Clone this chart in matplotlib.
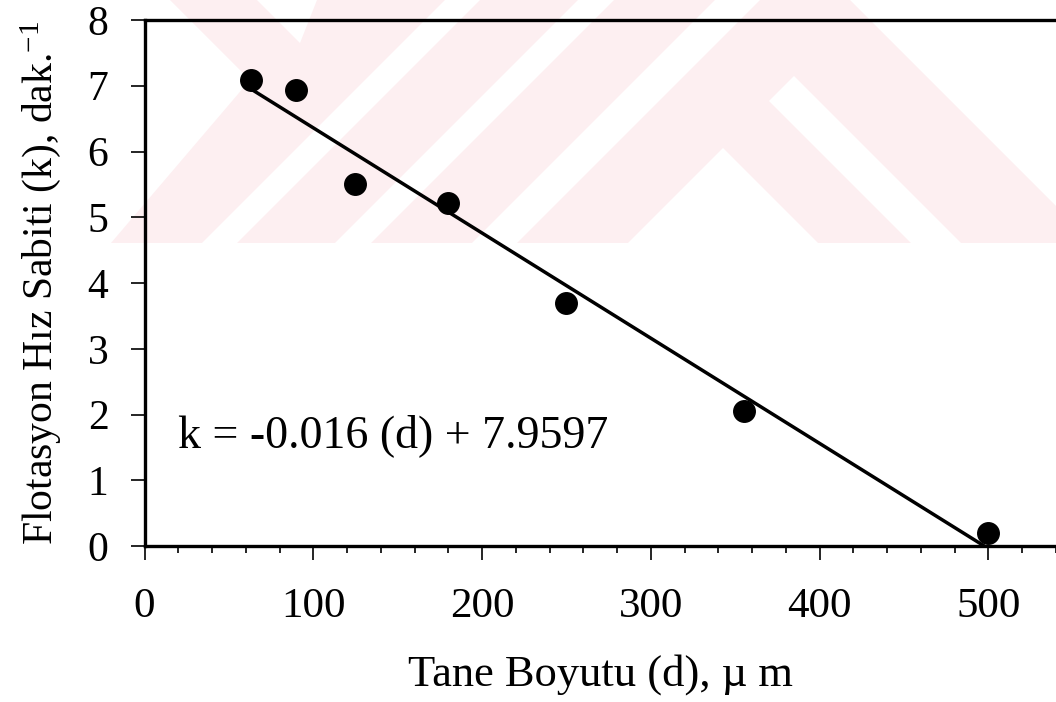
import matplotlib
matplotlib.use('Agg')
import matplotlib.pyplot as plt
from matplotlib.patches import Polygon
from matplotlib.ticker import MultipleLocator
import numpy as np

# particle size (um) vs flotation rate constant (1/min)
size_um = [63, 90, 125, 180, 250, 355, 500]
rate_k = [7.09, 6.94, 5.51, 5.22, 3.69, 2.05, 0.2]

# fitted line given on the chart
fit_slope = -0.016
fit_intercept = 7.9597
fit_label = 'k = -0.016 (d) + 7.9597'

x_ticks = [0, 100, 200, 300, 400, 500]
y_ticks = [0, 1, 2, 3, 4, 5, 6, 7, 8]

plt.rcParams['font.family'] = ['Liberation Serif', 'DejaVu Serif']
plt.rcParams['mathtext.default'] = 'regular'

W, H = 1056, 702
fig = plt.figure(figsize=(W / 100, H / 100), dpi=100, facecolor='white')

# faint thesis watermark in the upper part of the page (pixel coords)
bg = fig.add_axes([0, 0, 1, 1], zorder=0)
bg.set_xlim(0, W)
bg.set_ylim(H, 0)
bg.axis('off')
pink = '#fdeff1'
bg.add_patch(Polygon([(170, 0), (250, 80), (111, 243), (1056, 243),
                      (1056, 206), (850, 0)], closed=True, fc=pink, ec='none'))
white_parts = [
    [(257, 0), (317, 0), (300, 43)],
    [(445, 0), (480, 0), (237, 243), (202, 243)],
    [(578, 0), (614, 0), (371, 243), (335, 243)],
    [(715, 0), (760, 0), (517, 243), (472, 243)],
    [(628, 243), (723, 148), (818, 243)],
    [(769, 101), (794, 76), (961, 243), (911, 243)],
]
for pts in white_parts:
    bg.add_patch(Polygon(pts, closed=True, fc='white', ec='none'))

ax = fig.add_axes([144.5 / W, 1 - 546 / H, 1 - 144.5 / W, 526 / H], zorder=1)
ax.set_facecolor('none')

# trend line from first point down to k = 0
line_x = np.array([size_um[0], -fit_intercept / fit_slope])
ax.plot(line_x, fit_slope * line_x + fit_intercept, color='black', lw=2.5,
        solid_capstyle='butt', zorder=2)
ax.plot(size_um, rate_k, 'o', color='black', ms=15.5, zorder=3)

ax.text(20, 1.5, fit_label, fontsize=33, ha='left', va='baseline')

ax.set_xlim(0, 540)
ax.set_ylim(0, 8)
ax.set_xticks(x_ticks)
ax.set_yticks(y_ticks)
ax.xaxis.set_minor_locator(MultipleLocator(20))

for side in ['left', 'top', 'bottom']:
    ax.spines[side].set_linewidth(2.4)
ax.spines['right'].set_visible(False)

ax.tick_params(axis='x', which='major', direction='out', length=10, width=1.2,
               labelsize=31, pad=20)
ax.tick_params(axis='x', which='minor', direction='out', length=5, width=1.2)
ax.tick_params(axis='y', which='major', direction='out', length=10, width=1.2,
               labelsize=30, pad=16)

ax.set_xlabel('Tane Boyutu (d), µ m', fontsize=32, labelpad=20)
ax.set_ylabel('Flotasyon Hız Sabiti (k), dak.$^{-1}$', fontsize=30, labelpad=18)

fig.savefig('out.png', dpi=100)
